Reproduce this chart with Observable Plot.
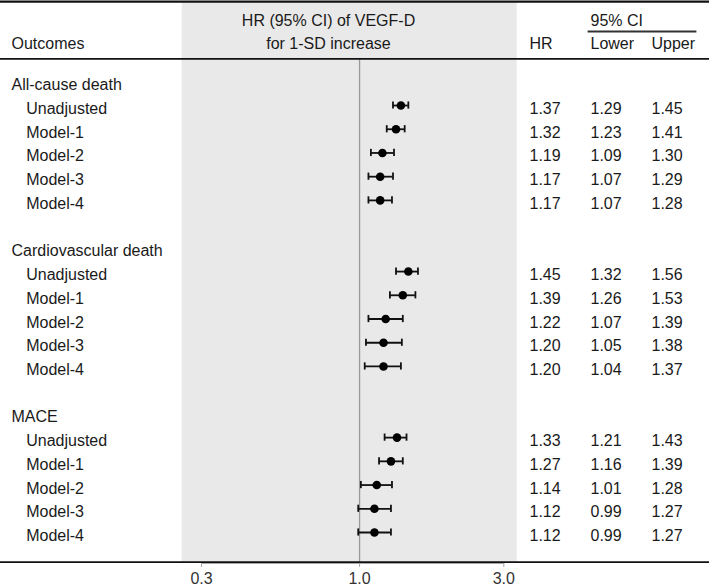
<!DOCTYPE html>
<html>
<head>
<meta charset="utf-8">
<script src="https://cdn.jsdelivr.net/npm/d3@7"></script>
<script src="https://cdn.jsdelivr.net/npm/@observablehq/plot@0.6"></script>
<style>
  html, body { margin: 0; padding: 0; background: #fff; }
  #chart { position: relative; width: 709px; height: 586px; }
  #chart svg { position: absolute; left: 0; top: 0; }
</style>
</head>
<body>
<div id="chart"></div>
<script>
// ---- data ----
const outcomes = ["All-cause death", "Cardiovascular death", "MACE"];
const models = ["Unadjusted", "Model-1", "Model-2", "Model-3", "Model-4"];
const hrValues = [
  [1.37, 1.32, 1.19, 1.17, 1.17],
  [1.45, 1.39, 1.22, 1.20, 1.20],
  [1.33, 1.27, 1.14, 1.12, 1.12]
];
const lowerValues = [
  [1.29, 1.23, 1.09, 1.07, 1.07],
  [1.32, 1.26, 1.07, 1.05, 1.04],
  [1.21, 1.16, 1.01, 0.99, 0.99]
];
const upperValues = [
  [1.45, 1.41, 1.30, 1.29, 1.28],
  [1.56, 1.53, 1.39, 1.38, 1.37],
  [1.43, 1.39, 1.28, 1.27, 1.27]
];
const axisTicks = [0.3, 1.0, 3.0];
const columns = ["HR", "Lower", "Upper"];
const columnKeys = {HR: "hr", Lower: "lower", Upper: "upper"};
const headerTitle = ["HR (95% CI) of VEGF-D", "for 1-SD increase"];

// ---- tables built from the arrays ----
const groupRows = outcomes.map((label, g) => ({label, row: g * 7}));
const rows = [];
outcomes.forEach((o, g) => {
  models.forEach((m, i) => {
    rows.push({
      outcome: o, label: m, row: g * 7 + i + 1,
      hr: hrValues[g][i], lower: lowerValues[g][i], upper: upperValues[g][i]
    });
  });
});

// ---- shared layout ----
const W = 709, H = 586;
const font = "Liberation Sans, Arial, sans-serif";
const ink = "#1a1a1a";
const yScale = {domain: [0, 19], range: [81.3, 532], axis: null};
const textDy = 3.4;

// Forest panel (log HR scale)
const forest = Plot.plot({
  width: W, height: H,
  marginLeft: 201, marginRight: W - 503.3, marginTop: 2, marginBottom: 23,
  style: {fontFamily: font, background: "transparent", overflow: "visible"},
  x: {type: "log", domain: [0.3, 3]},
  y: yScale,
  marks: [
    Plot.rect([0], {x1: 0.3, x2: 3, fill: "#e9e9e9", insetLeft: -19.3, insetRight: -13.4}),
    Plot.ruleX([1], {stroke: "#9a9a9a", strokeWidth: 1.3, insetTop: 56.3}),
    Plot.frame({anchor: "bottom", stroke: "#a8a8a8", strokeWidth: 1}),
    Plot.ruleY(rows, {y: "row", x1: "lower", x2: "upper", stroke: "#111", strokeWidth: 1.8}),
    Plot.ruleX(rows, {x: "lower", y1: "row", y2: "row", insetTop: -3.6, insetBottom: -3.6, stroke: "#111", strokeWidth: 1.8}),
    Plot.ruleX(rows, {x: "upper", y1: "row", y2: "row", insetTop: -3.6, insetBottom: -3.6, stroke: "#111", strokeWidth: 1.8}),
    Plot.dot(rows, {x: "hr", y: "row", r: 4.3, fill: "#000", stroke: "none"}),
    Plot.axisX(axisTicks, {anchor: "bottom", label: null, tickSize: 4, tickPadding: 5,
      tickFormat: d => d.toFixed(1), fontSize: 16, stroke: "#a8a8a8", fill: "#333"})
  ]
});

// Table text and rules
const numberMarks = columns.map(c => Plot.text(rows, {
  x: () => c, y: "row", text: d => d[columnKeys[c]].toFixed(2),
  textAnchor: "start", dy: textDy, fill: ink, fontSize: 16
}));

const table = Plot.plot({
  width: W, height: H,
  marginLeft: 0, marginRight: 0, marginTop: 0, marginBottom: 0,
  style: {fontFamily: font, background: "transparent", overflow: "visible"},
  x: {type: "point", domain: columns, range: [529, 651], padding: 0, axis: null},
  y: yScale,
  marks: [
    Plot.frame({anchor: "top", insetTop: 1.2, stroke: "#111", strokeWidth: 2.2}),
    Plot.frame({anchor: "top", insetTop: 58.3, stroke: "#111", strokeWidth: 1.8}),
    Plot.frame({anchor: "bottom", insetBottom: H - 561.7, stroke: "#111", strokeWidth: 1.8}),
    Plot.frame({anchor: "top", insetTop: 31, insetLeft: 588, insetRight: W - 695, stroke: "#333", strokeWidth: 1.8}),
    Plot.text(["Outcomes"], {frameAnchor: "top-left", dx: 11, dy: 43.6, lineAnchor: "middle", textAnchor: "start", fill: ink, fontSize: 16}),
    Plot.text([headerTitle[0]], {frameAnchor: "top-left", dx: 328, dy: 20.6, lineAnchor: "middle", textAnchor: "middle", fill: ink, fontSize: 16}),
    Plot.text([headerTitle[1]], {frameAnchor: "top-left", dx: 328, dy: 43.6, lineAnchor: "middle", textAnchor: "middle", fill: ink, fontSize: 16}),
    Plot.text(columns, {x: d => d, frameAnchor: "top", dy: 43.6, lineAnchor: "middle", textAnchor: "start", fill: ink, fontSize: 16}),
    Plot.text(["95% CI"], {x: () => "Lower", frameAnchor: "top", dy: 20.6, lineAnchor: "middle", textAnchor: "start", fill: ink, fontSize: 16}),
    Plot.text(groupRows, {y: "row", text: "label", frameAnchor: "left", dx: 11, dy: textDy, textAnchor: "start", fill: ink, fontSize: 16}),
    Plot.text(rows, {y: "row", text: "label", frameAnchor: "left", dx: 25.7, dy: textDy, textAnchor: "start", fill: ink, fontSize: 16}),
    ...numberMarks
  ]
});

const el = document.getElementById("chart");
el.append(forest, table);
</script>
</body>
</html>
